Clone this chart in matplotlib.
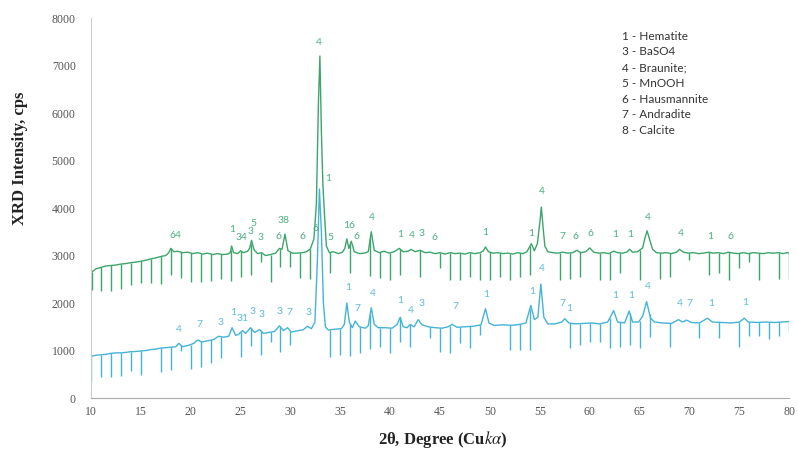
import numpy as np
import matplotlib.pyplot as plt

# upper (green) pattern: 2theta / intensity
green_pts = [
    (10.0, 2640), (10.5, 2720), (11.0, 2750), (11.5, 2780), (12.0, 2790), (12.5, 2800),
    (13.0, 2820), (13.5, 2830), (14.0, 2850), (14.5, 2860), (15.0, 2880), (15.5, 2900),
    (16.0, 2930), (16.5, 2950), (17.0, 2980), (17.5, 3000), (17.8, 3060), (18.0, 3150),
    (18.3, 3080), (18.7, 3090), (19.2, 3060), (19.7, 3070), (20.2, 3040), (20.7, 3060),
    (21.2, 3030), (21.7, 3050), (22.2, 3020), (22.7, 3040), (23.2, 3020), (23.7, 3030),
    (23.95, 3060), (24.1, 3200), (24.3, 3060), (24.7, 3040), (25.0, 3100), (25.3, 3060),
    (25.7, 3090), (25.9, 3150), (26.1, 3320), (26.35, 3120), (26.7, 3040), (27.1, 3060),
    (27.5, 3000), (28.0, 3020), (28.5, 3050), (28.9, 3150), (29.15, 3130), (29.45, 3450),
    (29.75, 3100), (30.2, 3050), (30.7, 3050), (31.2, 3060), (31.6, 3080), (32.0, 3140),
    (32.35, 3350), (32.6, 4100), (32.8, 6200), (32.95, 7200), (33.1, 5600), (33.25, 4500),
    (33.4, 3900), (33.6, 3200), (33.9, 3060), (34.3, 3080), (34.8, 3040), (35.2, 3070),
    (35.45, 3150), (35.65, 3350), (35.85, 3150), (36.1, 3300), (36.4, 3080), (36.9, 3040),
    (37.4, 3050), (37.8, 3080), (38.1, 3500), (38.4, 3110), (38.9, 3060), (39.4, 3090),
    (39.9, 3050), (40.4, 3080), (40.9, 3150), (41.3, 3080), (41.8, 3090), (42.1, 3130),
    (42.5, 3080), (43.0, 3110), (43.5, 3060), (44.0, 3070), (44.5, 3040), (45.0, 3060),
    (45.5, 3030), (46.0, 3060), (46.5, 3040), (47.0, 3050), (47.5, 3030), (48.0, 3060),
    (48.5, 3040), (49.0, 3060), (49.3, 3090), (49.55, 3180), (49.85, 3080), (50.3, 3050),
    (50.8, 3060), (51.3, 3040), (51.8, 3050), (52.3, 3030), (52.8, 3060), (53.3, 3040),
    (53.7, 3080), (54.15, 3250), (54.45, 3100), (54.75, 3250), (55.0, 3700), (55.15, 4020),
    (55.3, 3650), (55.5, 3200), (55.8, 3080), (56.3, 3060), (56.8, 3050), (57.3, 3070),
    (57.8, 3050), (58.3, 3060), (58.7, 3110), (59.1, 3060), (59.6, 3080), (60.0, 3160),
    (60.4, 3070), (60.9, 3050), (61.4, 3060), (61.9, 3040), (62.4, 3090), (62.8, 3060),
    (63.3, 3050), (63.7, 3070), (64.0, 3130), (64.3, 3070), (64.8, 3080), (65.3, 3160),
    (65.55, 3380), (65.75, 3520), (65.95, 3380), (66.3, 3130), (66.7, 3060), (67.2, 3050),
    (67.7, 3060), (68.2, 3040), (68.7, 3070), (69.0, 3130), (69.4, 3070), (69.9, 3050),
    (70.4, 3060), (70.9, 3040), (71.4, 3050), (71.9, 3070), (72.4, 3050), (72.9, 3060),
    (73.4, 3040), (73.9, 3070), (74.4, 3050), (74.9, 3040), (75.4, 3060), (75.9, 3040),
    (76.4, 3060), (76.9, 3050), (77.4, 3040), (77.9, 3060), (78.4, 3050), (78.9, 3060),
    (79.4, 3040), (79.8, 3060), (80.0, 3050),
]

# lower (blue) pattern
blue_pts = [
    (10.0, 880), (10.5, 900), (11.0, 910), (11.5, 920), (12.0, 940), (12.5, 950),
    (13.0, 950), (13.5, 960), (14.0, 975), (14.5, 980), (15.0, 990), (15.5, 1000),
    (16.0, 1020), (16.5, 1030), (17.0, 1050), (17.5, 1060), (18.0, 1070), (18.5, 1080),
    (18.8, 1150), (19.2, 1080), (19.8, 1110), (20.3, 1150), (20.7, 1220), (21.1, 1180),
    (21.6, 1200), (22.3, 1230), (22.8, 1300), (23.3, 1280), (23.8, 1300), (24.15, 1480),
    (24.5, 1320), (24.8, 1340), (25.2, 1420), (25.5, 1360), (26.0, 1480), (26.4, 1380),
    (26.9, 1440), (27.3, 1360), (27.8, 1380), (28.4, 1400), (28.9, 1520), (29.3, 1420),
    (29.7, 1480), (30.1, 1390), (30.8, 1420), (31.3, 1440), (31.7, 1510), (32.1, 1460),
    (32.45, 1600), (32.7, 2900), (32.9, 4400), (33.1, 3500), (33.3, 2000), (33.5, 1500),
    (33.8, 1430), (34.5, 1450), (35.1, 1460), (35.4, 1550), (35.65, 2000), (35.9, 1600),
    (36.2, 1480), (36.5, 1620), (36.9, 1500), (37.5, 1470), (37.8, 1520), (38.1, 1900),
    (38.4, 1550), (38.8, 1480), (39.5, 1480), (40.2, 1470), (40.7, 1550), (41.0, 1700),
    (41.3, 1500), (41.7, 1480), (42.0, 1550), (42.4, 1500), (42.8, 1650), (43.2, 1540),
    (43.8, 1500), (44.5, 1480), (45.2, 1470), (45.8, 1500), (46.2, 1550), (46.7, 1490),
    (47.5, 1500), (48.3, 1510), (49.1, 1540), (49.55, 1880), (49.9, 1580), (50.4, 1530),
    (51.3, 1540), (52.2, 1530), (53.0, 1550), (53.6, 1580), (54.1, 1950), (54.45, 1650),
    (54.8, 1700), (55.1, 2400), (55.4, 1700), (55.8, 1560), (56.5, 1560), (57.2, 1600),
    (57.5, 1670), (57.9, 1580), (58.5, 1560), (59.3, 1570), (60.2, 1580), (61.0, 1560),
    (61.8, 1600), (62.4, 1840), (62.8, 1600), (63.5, 1580), (63.95, 1830), (64.3, 1600),
    (64.9, 1600), (65.3, 1720), (65.7, 2030), (66.1, 1680), (66.5, 1600), (67.3, 1580),
    (68.2, 1570), (68.9, 1650), (69.3, 1600), (69.7, 1640), (70.2, 1590), (71.0, 1580),
    (71.8, 1680), (72.3, 1600), (73.2, 1590), (74.2, 1580), (75.0, 1600), (75.5, 1680),
    (75.9, 1600), (76.8, 1590), (77.6, 1600), (78.5, 1590), (79.3, 1600), (80.0, 1610),
]

# downward spikes (position, lowest value)
green_dip_x = [10.1, 11, 12, 13, 14, 15, 16, 17, 18, 19, 20, 21, 22, 23, 24, 25, 26, 27, 28,
               29, 30, 31, 32, 34, 36, 38, 39, 40, 41, 43, 45, 46, 47, 48, 49, 50, 51, 52,
               53, 54, 57, 58, 59, 61, 62, 63, 65, 67, 68, 70, 72, 73, 74, 75, 76, 77, 79, 80]
green_dip_lo = [2270, 2260, 2250, 2300, 2380, 2420, 2430, 2400, 2590, 2520, 2450, 2450, 2460,
                2500, 2460, 2550, 2600, 2870, 2450, 2760, 2750, 2520, 2500, 2630, 2630, 2570,
                2520, 2480, 2590, 2550, 2730, 2480, 2480, 2550, 2480, 2480, 2550, 2480, 2550,
                2600, 2480, 2500, 2550, 2480, 2480, 2630, 2480, 2500, 2550, 2900, 2590, 2630,
                2480, 2740, 2870, 2480, 2500, 2500]

blue_dip_x = [10.05, 11, 12, 13, 14, 15, 17, 18, 19, 20, 21, 22, 23, 25, 26, 27, 28, 29, 30,
              34, 35, 36, 37, 38, 39, 40, 41, 42, 44, 45, 46, 47, 48, 49, 52, 53, 54, 58,
              59, 60, 61, 62, 63, 64, 65, 66, 68, 71, 73, 75, 76, 77, 78, 79, 80]
blue_dip_lo = [350, 450, 450, 470, 575, 480, 550, 590, 1000, 610, 660, 730, 840, 870, 1100, 900,
               1185, 975, 1115, 870, 905, 880, 945, 1030, 1080, 945, 1185, 1080, 1260, 975,
               945, 1155, 1050, 1325, 1010, 1010, 1010, 1050, 1115, 1185, 1185, 1045, 1080,
               1115, 1045, 1290, 1080, 1260, 1260, 1065, 1300, 1300, 1250, 1300, 1400]

# phase labels (text, 2theta, cps)
green_labels = [
    ("64", 18.43, 3430), ("1", 24.16, 3540), ("34", 25.05, 3370), ("3", 26.0, 3500),
    ("5", 26.25, 3680), ("3", 27.05, 3370), ("38", 29.28, 3730), ("6", 28.78, 3410),
    ("6", 31.18, 3390), ("6", 32.49, 3560), ("4", 32.89, 7495), ("1", 33.8, 4630),
    ("5", 34.0, 3370), ("16", 35.9, 3640), ("6", 36.6, 3410), ("4", 38.2, 3810),
    ("1", 41.02, 3450), ("4", 42.13, 3430), ("3", 43.13, 3470), ("6", 44.44, 3370),
    ("1", 49.56, 3490), ("1", 54.18, 3470), ("4", 55.23, 4340), ("7", 57.29, 3410),
    ("6", 58.6, 3410), ("6", 60.1, 3470), ("1", 62.6, 3450), ("1", 64.1, 3450),
    ("4", 65.8, 3810), ("4", 69.1, 3470), ("1", 72.1, 3410), ("6", 74.15, 3410),
]
blue_labels = [
    ("4", 18.84, 1450), ("7", 20.84, 1540), ("3", 22.95, 1580), ("1", 24.26, 1790),
    ("31", 25.15, 1680), ("3", 26.15, 1830), ("3", 27.1, 1750), ("3", 28.88, 1830),
    ("7", 29.88, 1790), ("3", 31.79, 1790), ("1", 35.8, 2320), ("7", 36.71, 1890),
    ("4", 38.21, 2210), ("1", 41.02, 2060), ("4", 42.08, 1850), ("3", 43.18, 2000),
    ("7", 46.55, 1920), ("1", 49.66, 2170), ("1", 54.23, 2250), ("4", 55.23, 2720),
    ("7", 57.29, 1980), ("1", 57.9, 1890), ("1", 62.6, 2150), ("1", 64.2, 2150),
    ("4", 65.8, 2340), ("4", 69.04, 2000), ("7", 69.95, 2000), ("1", 72.2, 2000),
    ("1", 75.56, 2020),
]

legend_lines = ["1 - Hematite", "3 - BaSO4", "4 - Braunite;", "5 - MnOOH",
                "6 - Hausmannite", "7 - Andradite", "8 - Calcite"]

GREEN = "#3da56c"
BLUE = "#45b3d6"

plt.rcParams['mathtext.fontset'] = 'stix'

fig = plt.figure(figsize=(7.98, 4.51), dpi=100)
ax = fig.add_axes([0.114, 0.1175, 0.875, 0.8425])

for pts, dx, dlo, col in [(green_pts, green_dip_x, green_dip_lo, GREEN),
                          (blue_pts, blue_dip_x, blue_dip_lo, BLUE)]:
    xs = np.array([p[0] for p in pts])
    ys = np.array([p[1] for p in pts])
    ax.plot(xs, ys, color=col, lw=1.0)
    tops = np.interp(dx, xs, ys)
    ax.vlines(dx, dlo, tops, color=col, lw=1.0)

for txt, x, y in green_labels:
    ax.text(x, y, txt, color="#4cae82", fontsize=7.5, family="Lato", ha="center", va="center")
for txt, x, y in blue_labels:
    ax.text(x, y, txt, color="#5cbcd9", fontsize=7.5, family="Lato", ha="center", va="center")

for i, line in enumerate(legend_lines):
    fig.text(622 / 798, 1 - (36 + i * 15.8) / 451, line, fontsize=8.5, family="Lato",
             color="#333333", ha="left", va="center")

ax.set_xlim(10, 80)
ax.set_ylim(0, 8000)
ax.set_xticks(range(10, 81, 5))
ax.set_yticks(range(0, 8001, 1000))
ax.tick_params(length=0, labelsize=8.5, labelcolor="#555555")
ax.tick_params(axis='y', pad=11)
ax.tick_params(axis='x', pad=6)
for lab in ax.get_xticklabels() + ax.get_yticklabels():
    lab.set_family("Liberation Serif")

for s in ["top", "right"]:
    ax.spines[s].set_visible(False)
ax.spines["left"].set_color("#cccccc")
ax.spines["bottom"].set_color("#aaaaaa")
ax.spines["bottom"].set_linestyle((0, (3, 1)))
ax.spines["left"].set_linewidth(0.8)
ax.spines["bottom"].set_linewidth(0.8)

fig.text(20 / 798, 1 - 158 / 451, "XRD Intensity, cps", rotation=90, fontsize=12,
         fontweight="bold", family="Liberation Serif", color="#222222", ha="center", va="center")
fig.text(443 / 798, 1 - 440 / 451, r"2θ, Degree (Cu$\it{k\alpha}$)", fontsize=12,
         fontweight="bold", family="Liberation Serif", color="#222222", ha="center", va="center")

fig.savefig("out.png", dpi=100)
